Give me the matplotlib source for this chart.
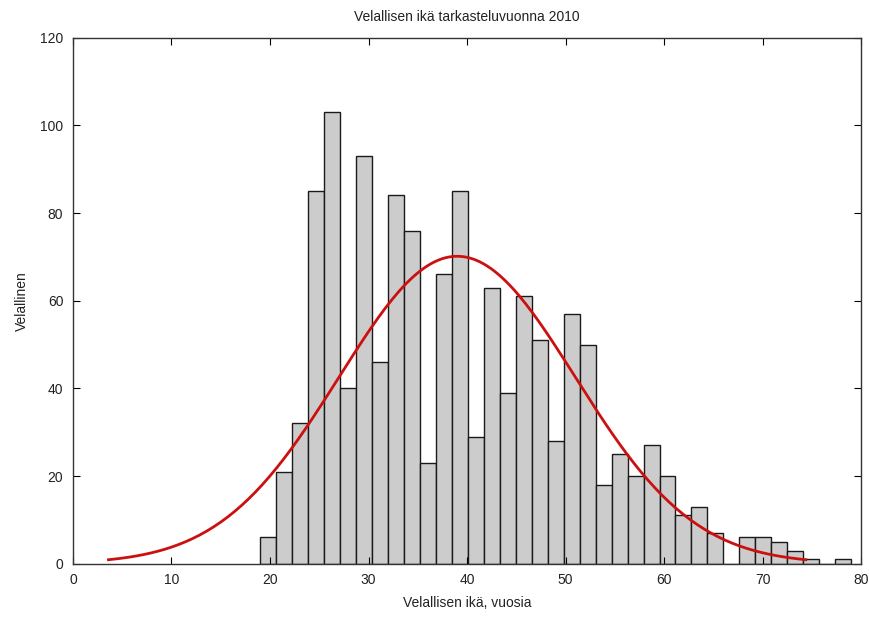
import matplotlib
matplotlib.use('Agg')
import matplotlib.pyplot as plt
import numpy as np

# histogram of debtor ages (counts per bin, 37 equal bins between min and max age)
age_min, age_max = 19, 79
counts = [6, 21, 32, 85, 103, 40, 93, 46, 84, 76,
          23, 66, 85, 29, 63, 39, 61, 51, 28, 57,
          50, 18, 25, 20, 27, 20, 11, 13, 7, 0,
          6, 6, 5, 3, 1, 0, 1]

# normal fit (histfit style)
fit_mu = 39.0
fit_sigma = 12.0

title = 'Velallisen ikä tarkasteluvuonna 2010'
xlabel = 'Velallisen ikä, vuosia'
ylabel = 'Velallinen'

plt.rcParams['font.family'] = ['Liberation Sans', 'DejaVu Sans']
plt.rcParams['font.size'] = 10

fig = plt.figure(figsize=(8.7, 6.17), dpi=100)
ax = fig.add_axes([0.0839, 0.0864, 0.9058, 0.8525])

edges = np.linspace(age_min, age_max, len(counts) + 1)
width = edges[1] - edges[0]
ax.bar(edges[:-1], counts, width=width, align='edge',
       color='#cccccc', edgecolor='#1a1a1a', linewidth=1.0)

n = sum(counts)
xs = np.linspace(fit_mu - 2.95 * fit_sigma, fit_mu + 2.95 * fit_sigma, 200)
ys = n * width / (fit_sigma * np.sqrt(2 * np.pi)) * np.exp(-0.5 * ((xs - fit_mu) / fit_sigma) ** 2)
ax.plot(xs, ys, color='#cc1010', linewidth=2)

ax.set_xlim(0, 80)
ax.set_ylim(0, 120)
ax.set_xticks(range(0, 81, 10))
ax.set_yticks(range(0, 121, 20))
ax.tick_params(direction='in', top=True, right=True, length=5, width=0.8,
               labelsize=10, labelcolor='#222222')
ax.tick_params(axis='x', pad=7)
ax.tick_params(axis='y', pad=7)
for s in ax.spines.values():
    s.set_linewidth(1.0)
    s.set_color('#333333')

ax.set_title(title, fontsize=10, pad=12, color='#222222')
ax.set_xlabel(xlabel, fontsize=10, labelpad=6, color='#222222')
ax.set_ylabel(ylabel, fontsize=10, labelpad=8, color='#222222')

fig.savefig('out.png', dpi=100)
